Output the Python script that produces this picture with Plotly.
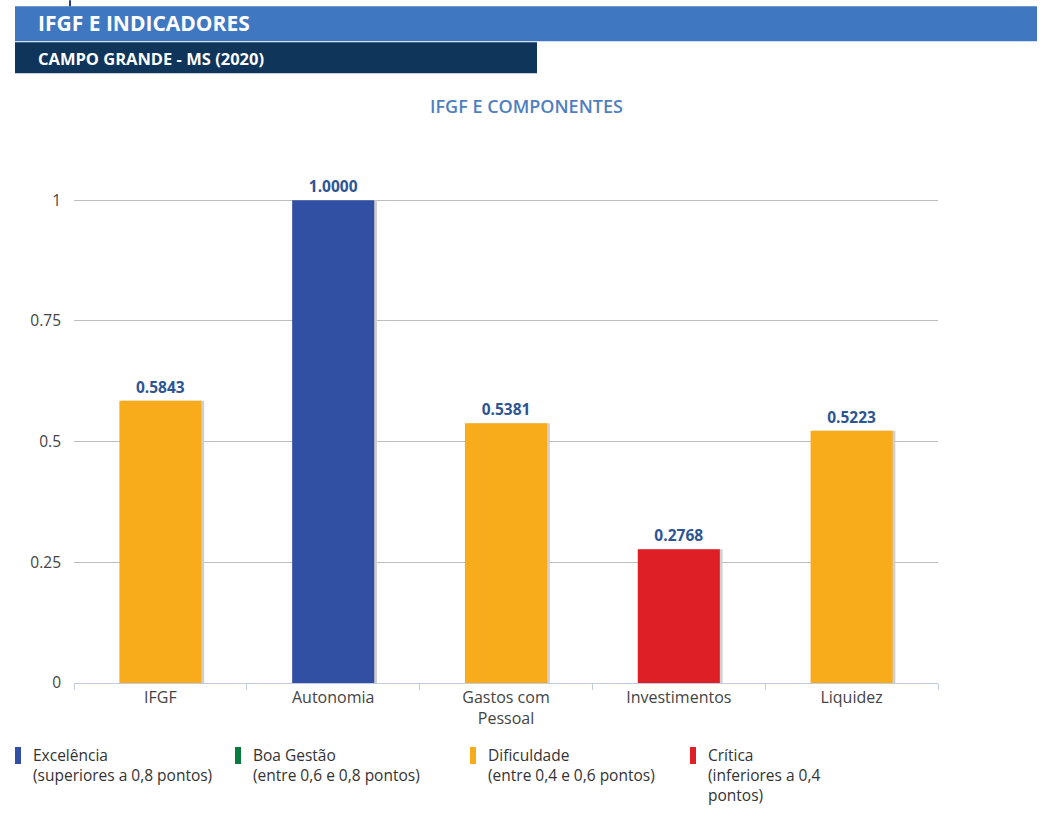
import plotly.graph_objects as go

categories = ["IFGF", "Autonomia", "Gastos com<br>Pessoal", "Investimentos", "Liquidez"]
values = [0.5843, 1.0000, 0.5381, 0.2768, 0.5223]
labels = ["0.5843", "1.0000", "0.5381", "0.2768", "0.5223"]
colors = ["#f8ac1b", "#3150a3", "#f8ac1b", "#de1f26", "#f8ac1b"]

legend_names = ["Excelência<br>(superiores a 0,8 pontos)",
                "Boa Gestão<br>(entre 0,6 e 0,8 pontos)",
                "Dificuldade<br>(entre 0,4 e 0,6 pontos)",
                "Crítica<br>(inferiores a 0,4<br>pontos)"]
legend_colors = ["#3150a3", "#0a7b3e", "#f8ac1b", "#de1f26"]
legend_x = [15, 235, 470, 690]

W, H = 1048, 816
L, R = 74, 938
Y0, Y1 = 683, 200  # pixel for y=0 and y=1
YMAX = 1.05
top_px = Y0 - (Y0 - Y1) * YMAX
FONT = "Open Sans"

def px(x):
    return (x - L) / (R - L)

def py(y):
    return (Y0 - y) / (Y0 - top_px)

fig = go.Figure()
bw = 0.475
# shadow
fig.add_trace(go.Bar(x=categories, y=values, width=bw, offset=-bw / 2 + 0.016,
                     marker=dict(color="#cfcfcf", line=dict(width=0)),
                     hoverinfo="skip", showlegend=False))
fig.add_trace(go.Bar(x=categories, y=values, width=bw, offset=-bw / 2,
                     marker=dict(color=colors, line=dict(width=0)),
                     text=labels, textposition="outside", cliponaxis=False,
                     textfont=dict(family=FONT, size=15.5, color="#2d5592", weight="bold"),
                     showlegend=False))

shapes = []
ann = []
# header bands
shapes.append(dict(type="rect", xref="paper", yref="paper", x0=px(15), x1=px(1037),
                   y0=py(41), y1=py(6), fillcolor="#3f78c0", line=dict(width=0), layer="above"))
shapes.append(dict(type="rect", xref="paper", yref="paper", x0=px(15), x1=px(537),
                   y0=py(73), y1=py(42), fillcolor="#10355a", line=dict(width=0), layer="above"))
shapes.append(dict(type="line", xref="paper", yref="paper", x0=px(70), x1=px(70),
                   y0=py(6), y1=py(0), line=dict(color="#2a3d8f", width=2)))
ann.append(dict(xref="paper", yref="paper", x=px(36), y=py(23), text="<b>IFGF E INDICADORES</b>",
                showarrow=False, xanchor="left", yanchor="middle",
                font=dict(family=FONT, size=21, color="white")))
ann.append(dict(xref="paper", yref="paper", x=px(36), y=py(58), text="<b>CAMPO GRANDE - MS (2020)</b>",
                showarrow=False, xanchor="left", yanchor="middle",
                font=dict(family=FONT, size=16.5, color="white")))
ann.append(dict(xref="paper", yref="paper", x=px(526), y=py(106), text="IFGF E COMPONENTES",
                showarrow=False, xanchor="center", yanchor="middle",
                font=dict(family=FONT, size=18, color="#4f7fbf", weight=600)))

# legend
for name, col, lx in zip(legend_names, legend_colors, legend_x):
    shapes.append(dict(type="rect", xref="paper", yref="paper", x0=px(lx), x1=px(lx + 6),
                       y0=py(764), y1=py(747), fillcolor=col, line=dict(width=0)))
    ann.append(dict(xref="paper", yref="paper", x=px(lx + 16), y=py(742), text=name,
                    showarrow=False, xanchor="left", yanchor="top", align="left",
                    font=dict(family=FONT, size=15.5, color="#333333")))

fig.update_layout(
    width=W, height=H,
    margin=dict(l=L, r=W - R, t=top_px, b=H - Y0),
    paper_bgcolor="white", plot_bgcolor="white",
    barmode="overlay",
    shapes=shapes, annotations=ann,
    font=dict(family=FONT, size=16, color="#444444"),
    xaxis=dict(showgrid=False, showline=True, linecolor="#c0cbe0", linewidth=1,
               ticks="outside", tickson="boundaries", ticklen=6, tickcolor="#c0cbe0",
               tickfont=dict(family=FONT, size=16, color="#444444")),
    yaxis=dict(range=[0, YMAX], tickvals=[0, 0.25, 0.5, 0.75, 1],
               ticktext=["0", "0.25", "0.5", "0.75", "1"],
               showgrid=True, gridcolor="#bdbdbd", gridwidth=1, zeroline=False,
               showline=False, ticks="", ticklabelstandoff=12,
               tickfont=dict(family=FONT, size=15.5, color="#444444")),
)

fig.write_html("out.html")
